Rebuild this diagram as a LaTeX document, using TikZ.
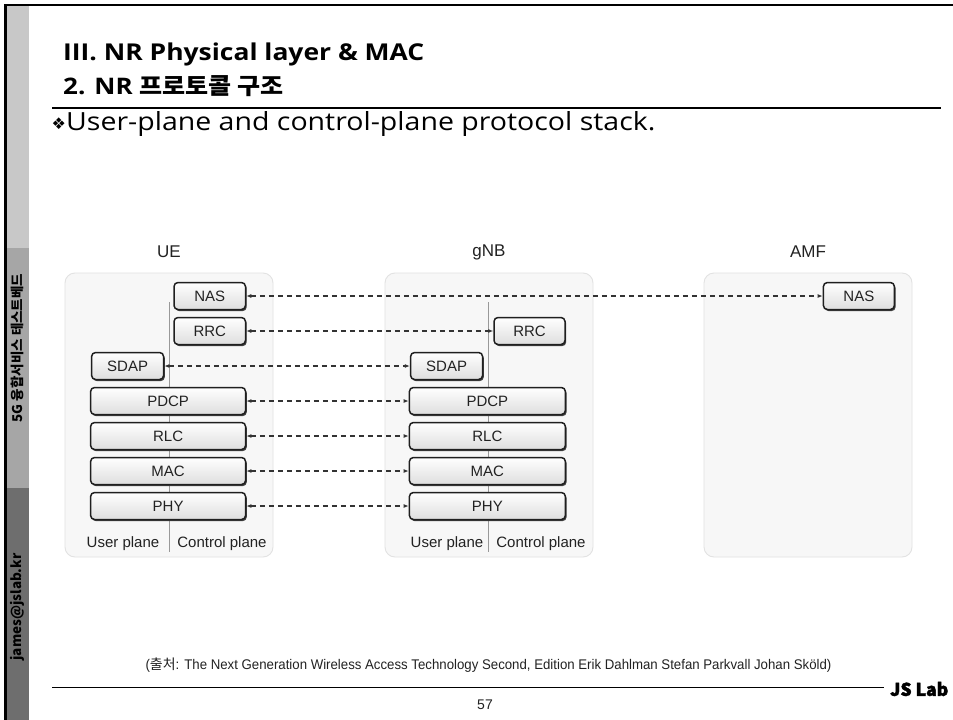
\documentclass[tikz,border=0pt]{standalone}
\usepackage{fontspec}
\setmainfont{Liberation Sans}
\newfontfamily\krfont{Noto Sans CJK KR}
\newfontfamily\krwide[FakeStretch=1.1]{Noto Sans CJK KR}
\newfontfamily\headfont[FakeStretch=1.14]{Open Sans}
\newfontfamily\heavyfont[BoldFeatures={FakeBold=2}]{Noto Sans CJK KR}
\newfontfamily\symfont{DejaVu Sans}
\newfontfamily\narrowfont[FakeStretch=0.945]{Liberation Sans}
\usetikzlibrary{arrows.meta,shadows}

\definecolor{sidelight}{HTML}{C8C8C8}
\definecolor{sidemid}{HTML}{A6A6A6}
\definecolor{sidedark}{HTML}{6E6E6E}
\definecolor{stackfill}{HTML}{F7F7F7}
\definecolor{stackline}{HTML}{E2E2E2}
\definecolor{inktext}{HTML}{222222}

\tikzset{
  layer/.style={draw=black!88, line width=1.5pt, rounded corners=4pt,
    top color=white, bottom color=black!13, minimum height=27pt, inner sep=0pt,
    font=\fontsize{15}{15}\selectfont, text=inktext,
    drop shadow={shadow xshift=1.2pt, shadow yshift=-1.6pt, fill=black!75, opacity=1}},
  stackbox/.style={draw=stackline, fill=stackfill, line width=0.9pt,
    rounded corners=10pt, minimum width=208pt, minimum height=284pt, inner sep=0pt},
  entity/.style={font=\fontsize{17}{17}\selectfont, text=inktext, inner sep=0pt},
  plane/.style={font=\fontsize{15}{15}\selectfont, text=inktext, inner sep=0pt},
  divider/.style={draw=black!40, line width=0.8pt},
  peer/.style={draw=black!80, line width=1.3pt, dash pattern=on 5.5pt off 3.5pt,
    {Latex[length=5pt,width=4pt]}-{Latex[length=5pt,width=4pt]}},
  sidetext/.style={rotate=90, inner sep=0pt, text=black,
    font=\krfont\bfseries\fontsize{13.5}{13.5}\selectfont}
}

\begin{document}
\begin{tikzpicture}[x=1pt,y=-1pt]
\useasboundingbox (0,0) rectangle (953,720);
\fill[white] (0,0) rectangle (953,720);

% side bar
\fill[sidelight] (7,5) rectangle (29,248);
\fill[sidemid] (7,248) rectangle (29,488);
\fill[sidedark] (7,488) rectangle (29,720);
\draw[line width=3pt] (5.5,4) -- (5.5,720);
\draw[line width=2.5pt] (4,5.2) -- (953,5.2);
\node[sidetext] (sideA) at (17,348) {5G 융합서비스 테스트베드};
\node[sidetext] (sideB) at (17,607) {james@jslab.kr};

% heading
\node[anchor=base west, inner sep=0pt, font=\headfont\bfseries\fontsize{23.2}{23.2}\selectfont]
  (title) at (63,60) {III. NR Physical layer \& MAC};
\node[anchor=base west, inner sep=0pt, font=\headfont\bfseries\fontsize{22.8}{22.8}\selectfont]
  (subtitle) at (63,94) {2. NR {\krwide\bfseries 프로토콜 구조}};
\draw[line width=2pt] (52,107.5) -- (941,107.5);
\node[anchor=base west, inner sep=0pt, font=\symfont\fontsize{16}{16}\selectfont]
  (mark) at (51.5,129) {❖};
\node[anchor=base west, inner sep=0pt, font=\headfont\fontsize{25}{25}\selectfont]
  (bullet) at (66,130) {User-plane and control-plane protocol stack.};

% protocol stacks
\node[stackbox] (ue) at (169,415) {};
\node[stackbox] (gnb) at (489,415) {};
\node[stackbox] (amf) at (808,415) {};
\node[entity] (ueL) at (169,252) {UE};
\node[entity] (gnbL) at (489,252) {gNB};
\node[entity] (amfL) at (808,252) {AMF};

\draw[divider] (169.3,302) -- (169.3,552);
\draw[divider] (488.3,302) -- (488.3,552);

\node[plane] (ueUP) at (123,544) {User plane};
\node[plane] (ueCP) at (222,544) {Control plane};
\node[plane] (gnbUP) at (447,544) {User plane};
\node[plane] (gnbCP) at (541,544) {Control plane};

% UE layers
\node[layer, minimum width=71.5pt] (uNAS) at (209.75,296) {NAS};
\node[layer, minimum width=71.5pt] (uRRC) at (209.75,331) {RRC};
\node[layer, minimum width=72pt] (uSDAP) at (127.6,366) {SDAP};
\node[layer, minimum width=155pt] (uPDCP) at (168.1,401) {PDCP};
\node[layer, minimum width=155pt] (uRLC) at (168.1,436) {RLC};
\node[layer, minimum width=155pt] (uMAC) at (168.1,471) {MAC};
\node[layer, minimum width=155pt] (uPHY) at (168.1,506) {PHY};

% gNB layers
\node[layer, minimum width=71pt] (gRRC) at (529.5,331) {RRC};
\node[layer, minimum width=72pt] (gSDAP) at (446.6,366) {SDAP};
\node[layer, minimum width=156pt] (gPDCP) at (487.4,401) {PDCP};
\node[layer, minimum width=156pt] (gRLC) at (487.4,436) {RLC};
\node[layer, minimum width=156pt] (gMAC) at (487.4,471) {MAC};
\node[layer, minimum width=156pt] (gPHY) at (487.4,506) {PHY};

% AMF layer
\node[layer, minimum width=71pt] (aNAS) at (858.9,296) {NAS};

% peer-to-peer links
\draw[peer] (uNAS.east) -- (aNAS.west);
\draw[peer] (uRRC.east) -- (gRRC.west);
\draw[peer] (uSDAP.east) -- (gSDAP.west);
\draw[peer] (uPDCP.east) -- (gPDCP.west);
\draw[peer] (uRLC.east) -- (gRLC.west);
\draw[peer] (uMAC.east) -- (gMAC.west);
\draw[peer] (uPHY.east) -- (gPHY.west);

% footer
\node[inner sep=0pt, text=inktext, font=\narrowfont\fontsize{14}{14}\selectfont] (source) at (488.5,665)
  {(\krfont 출처\narrowfont: The Next Generation Wireless Access Technology Second, Edition Erik Dahlman Stefan Parkvall Johan Sköld)};
\draw[line width=1.3pt] (52,687.5) -- (884,687.5);
\node[anchor=west, inner sep=0pt, font=\heavyfont\bfseries\fontsize{17.5}{17.5}\selectfont] (lab) at (890,689) {JS Lab};
\node[inner sep=0pt, text=inktext, font=\fontsize{14}{14}\selectfont] (page) at (485,705) {57};
\end{tikzpicture}
\end{document}
